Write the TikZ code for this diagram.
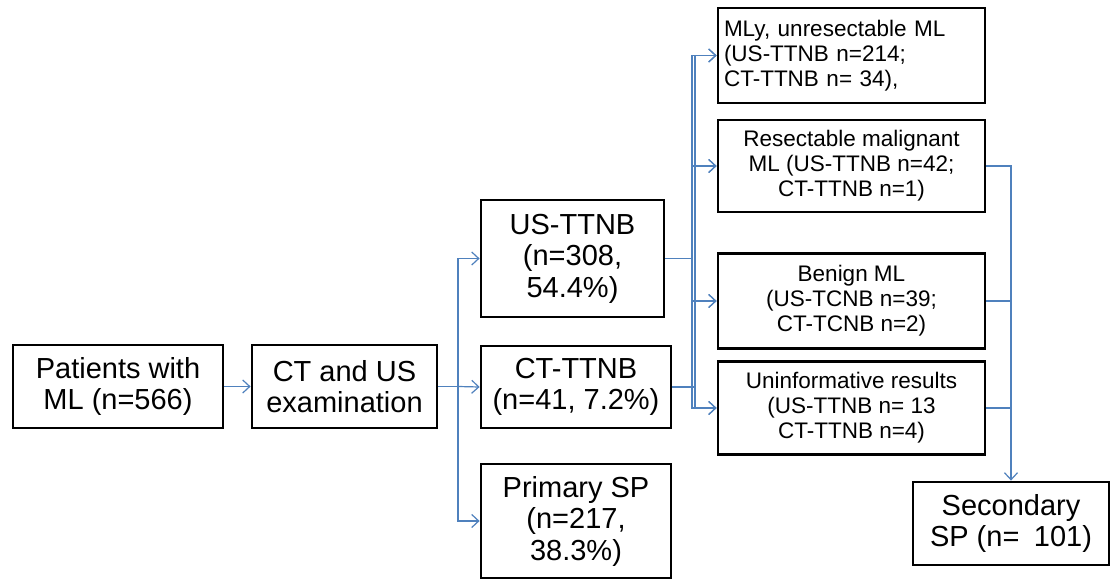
\documentclass[tikz,border=0pt]{standalone}
\usepackage{fontspec}
\setmainfont{Liberation Sans}
\usetikzlibrary{arrows.meta}
\definecolor{conn}{HTML}{4F81BD}
\begin{document}
\begin{tikzpicture}[x=1pt,y=-1pt,
  box/.style={draw=black,line width=2.8pt,inner sep=0pt,align=center,
    font=\fontsize{29}{31.5}\selectfont},
  sbox/.style={draw=black,line width=2.8pt,inner sep=0pt,align=center,
    font=\fontsize{22.5}{25}\selectfont},
  conline/.style={draw=conn,line width=1.2pt},
  arr/.style={conline,-{Straight Barb[length=7pt,width=13pt,line width=1.2pt]}}]
\useasboundingbox (0,0) rectangle (1117,580);
\fill[white] (0,0) rectangle (1117,580);

\node[box,minimum width=210pt,minimum height=83pt] (pat) at (118,386.5) {Patients with\\ML (n=566)};
\node[box,minimum width=185pt,minimum height=83pt] (ctus) at (344.5,386.5) {CT and US\\examination};
\node[box,minimum width=183pt,minimum height=117pt] (ust) at (572.5,258.5) {US-TTNB\\(n=308,\\54.4\%)};
\node[box,minimum width=190pt,minimum height=82pt] (ctt) at (576,387) {CT-TTNB\\(n=41, 7.2\%)};
\node[box,minimum width=190pt,minimum height=114pt] (psp) at (576,521) {Primary SP\\(n=217,\\38.3\%)};

\node[sbox,minimum width=267pt,minimum height=95pt,align=left,text width=255pt] (mly) at (851.5,55.5) {MLy, unresectable ML\\(US-TTNB n=214;\\CT-TTNB n= 34),};
\node[sbox,minimum width=267pt,minimum height=92pt] (res) at (851.5,166) {Resectable malignant\\ML (US-TTNB n=42;\\CT-TTNB n=1)};
\node[sbox,minimum width=267pt,minimum height=95pt] (ben) at (851.5,301) {Benign ML\\(US-TCNB n=39;\\CT-TCNB n=2)};
\node[sbox,minimum width=267pt,minimum height=93pt] (uni) at (851.5,408) {Uninformative results\\(US-TTNB n= 13\\CT-TTNB n=4)};
\node[box,minimum width=196pt,minimum height=83pt] (sec) at (1011,523.5) {Secondary\\SP (n=\hspace{0.5em}101)};

\coordinate (trunk) at (458,386.5);
\coordinate (ja) at (692,258.5);
\coordinate (jb) at (695,387);

\draw[arr] (pat.east) -- (ctus.west);
\draw[conline] (ctus.east) -- (trunk);
\draw[arr] (trunk) |- (ust.west);
\draw[arr] (trunk) -- (ctt.west);
\draw[arr] (trunk) |- (psp.west);

\draw[conline] (ust.east) -- (ja);
\foreach \t in {mly,res,ben,uni} \draw[arr] (ja) |- (\t.west);
\draw[conline] (ctt.east) -- (jb);
\foreach \t in {mly,res,ben,uni} \draw[arr] (jb) |- (\t.west);

\draw[arr] (res.east) -| (sec.north);
\draw[conline] (ben.east) -- (ben.east -| sec.north);
\draw[conline] (uni.east) -- (uni.east -| sec.north);
\end{tikzpicture}
\end{document}
